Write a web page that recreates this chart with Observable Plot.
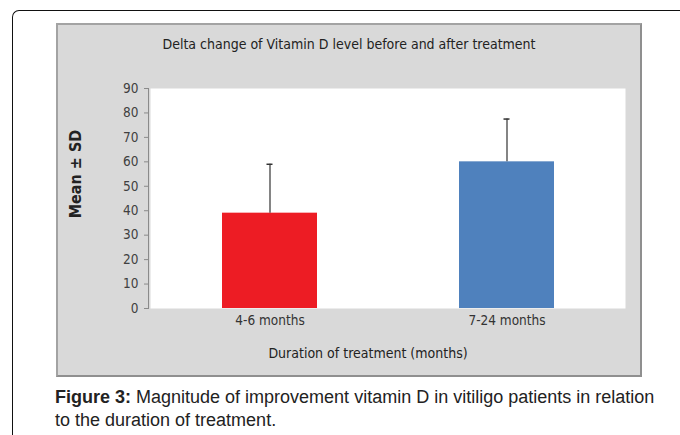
<!DOCTYPE html>
<html>
<head>
<meta charset="utf-8">
<script src="https://cdn.jsdelivr.net/npm/d3@7"></script>
<script src="https://cdn.jsdelivr.net/npm/@observablehq/plot@0.6"></script>
<style>
  html, body { margin: 0; padding: 0; background: #fff; }
  #page { position: relative; width: 680px; height: 435px; overflow: hidden; }
  #frame { position: absolute; left: 12px; top: 10px; width: 700px; height: 460px;
           border-left: 1.5px solid #111; border-top: 1.5px solid #111; border-top-left-radius: 7px; }
  #box { position: absolute; left: 56px; top: 23px; width: 582px; height: 350px;
         background: #d9d9d9; border: 2px solid #a3a3a3; border-right-color: #8f8f8f; border-bottom-color: #8f8f8f; }
  #chart { position: absolute; left: 56px; top: 23px; }
  #title { position: absolute; left: 56px; top: 36px; width: 586px; text-align: center;
           font-family: "Liberation Sans Narrow", "DejaVu Sans Condensed", sans-serif; font-size: 14px; color: #222; }
  #ylabel { position: absolute; left: 75px; top: 174px; transform: translate(-50%, -50%) rotate(-90deg);
            white-space: nowrap; font-family: "DejaVu Sans Condensed", sans-serif; font-weight: bold; font-size: 16px; color: #222; }
  #caption { position: absolute; left: 55px; top: 386px; width: 625px; white-space: nowrap;
             font-family: "Liberation Sans", Arial, sans-serif; font-size: 18px; line-height: 23px; color: #222; }
</style>
</head>
<body>
<div id="page">
  <div id="frame"></div>
  <div id="box"></div>
  <div id="title">Delta change of Vitamin D level before and after treatment</div>
  <div id="chart"></div>
  <div id="ylabel"></div>
  <div id="caption"><b>Figure 3:</b> Magnitude of improvement vitamin D in vitiligo patients in relation<br>to the duration of treatment.</div>
</div>
<script>
const categories = ["4-6 months", "7-24 months"];
const means = [39, 60];
const sds = [20, 17.5];
const barColors = ["#ed1c24", "#4f81bd"];
const yTicks = [0, 10, 20, 30, 40, 50, 60, 70, 80, 90];
const xTitle = "Duration of treatment (months)";
const yTitle = "Mean ± SD";

const data = categories.map((c, i) => ({cat: c, mean: means[i], sd: sds[i], color: barColors[i]}));
const chartFont = "'Liberation Sans Narrow', 'DejaVu Sans Condensed', sans-serif";

document.getElementById("ylabel").textContent = yTitle;

const plot = Plot.plot({
  width: 586,
  height: 354,
  marginLeft: 94,
  marginRight: 17,
  marginTop: 65,
  marginBottom: 69,
  style: {background: "transparent", fontFamily: chartFont, fontSize: "13.5px", color: "#333"},
  x: {domain: categories, paddingInner: 0.6, paddingOuter: 0.3, label: null},
  y: {domain: [0, 90], ticks: yTicks, label: null},
  marks: [
    Plot.frame({fill: "white", stroke: null}),
    Plot.frame({anchor: "left", stroke: "#8a8a8a", dx: -2}),
    Plot.barY(data, {x: "cat", y: "mean", fill: "color"}),
    Plot.ruleX(data, {x: "cat", y1: "mean", y2: d => d.mean + d.sd, stroke: "#333", strokeWidth: 1.2}),
    Plot.tickY(data, {x: "cat", y: d => d.mean + d.sd, insetLeft: 44.5, insetRight: 44.5, stroke: "#333", strokeWidth: 1.5}),
    Plot.axisY({ticks: yTicks, tickSize: 4, tickPadding: 6, dx: -2, stroke: "#8a8a8a", fill: "#404040", label: null}),
    Plot.axisX({tickSize: 0, tickPadding: 7, fill: "#333", label: null}),
    Plot.text([xTitle], {frameAnchor: "bottom", dy: 49, dx: -20, fontSize: 14, fill: "#222"})
  ]
});
document.getElementById("chart").appendChild(plot);
</script>
</body>
</html>
